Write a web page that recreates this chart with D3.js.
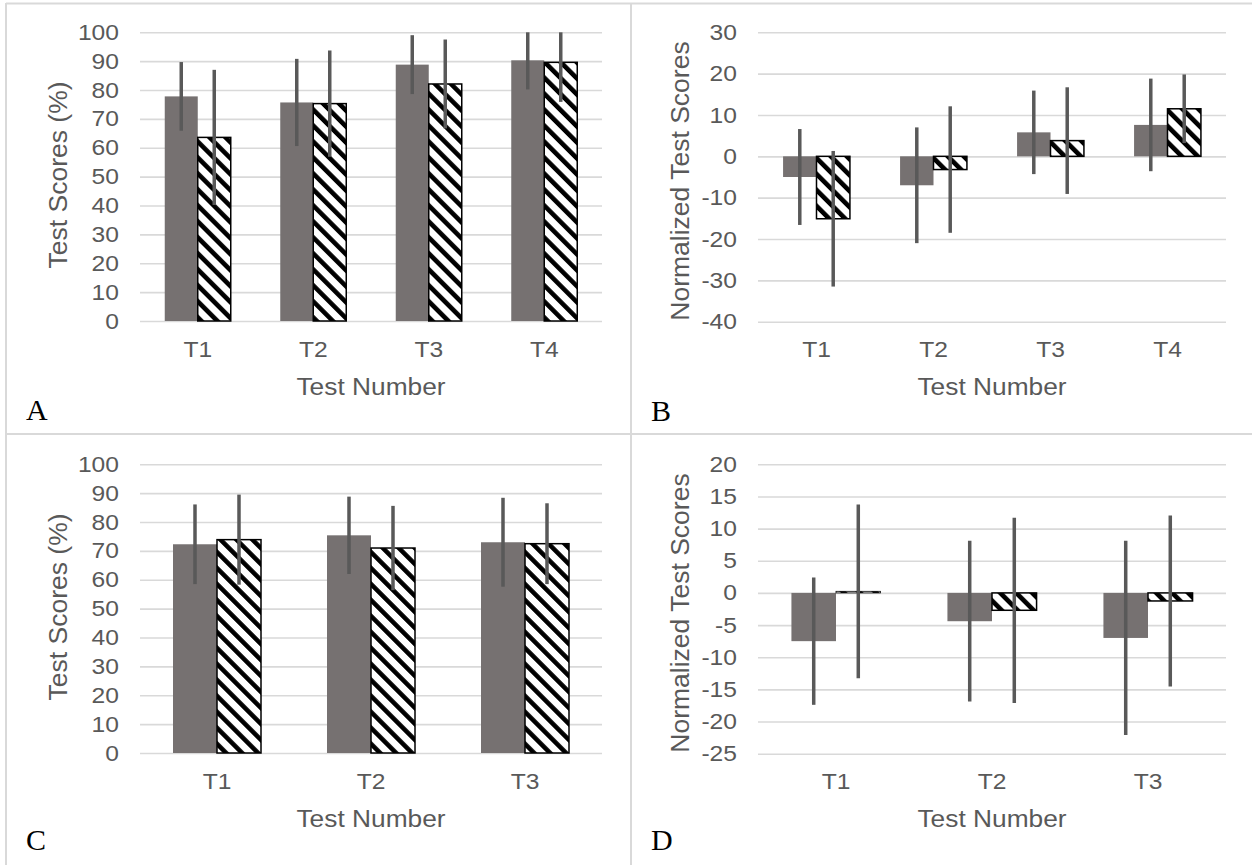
<!DOCTYPE html>
<html>
<head>
<meta charset="utf-8">
<script src="https://cdn.jsdelivr.net/npm/d3@7"></script>
<style>
  body { margin: 0; background: #fff; }
  svg { display: block; }
  text { font-family: "Liberation Sans", Arial, sans-serif; }
</style>
</head>
<body>
<svg id="chart" width="1252" height="865"></svg>
<script>
// categories
var testsAB = ["T1", "T2", "T3", "T4"];
var testsCD = ["T1", "T2", "T3"];

// panel A - raw scores, solid / hatched series, with error bar half widths
var scoresA  = [77.8, 75.7, 88.8, 90.3];
var scoresA2 = [63.6, 75.3, 82.1, 89.6];
var errA  = [11.9, 15.1, 10.2, 10.1];
var errA2 = [23.4, 18.4, 15.4, 13.7];

// panel B - normalized
var normB  = [-5.0, -7.0, 5.8, 7.6];
var normB2 = [-15.1, -3.2, 3.8, 11.5];
var errB  = [11.6, 14.0, 10.1, 11.2];
var errB2 = [16.4, 15.3, 12.9, 8.3];

// panel C - raw scores
var scoresC  = [72.3, 75.4, 73.0];
var scoresC2 = [73.9, 71.0, 72.5];
var errC  = [13.8, 13.4, 15.4];
var errC2 = [15.6, 14.6, 14.0];

// panel D - normalized
var normD  = [-7.5, -4.4, -7.0];
var normD2 = [0.25, -2.7, -1.25];
var errD  = [9.9, 12.5, 15.1];
var errD2 = [13.5, 14.4, 13.3];

// tick labels
var ticksScore = [0, 10, 20, 30, 40, 50, 60, 70, 80, 90, 100];
var ticksB = [-40, -30, -20, -10, 0, 10, 20, 30];
var ticksD = [-25, -20, -15, -10, -5, 0, 5, 10, 15, 20];

var GRAY = "#767171", ERR = "#595959", GRID = "#d9d9d9", TXT = "#595959";
var SX = 1.12; // text in the original is a bit wider than Arial

var svg = d3.select("#chart");

// hatch pattern: black "\" stripes on white
var defs = svg.append("defs");
var pat = defs.append("pattern")
    .attr("id", "hatch")
    .attr("patternUnits", "userSpaceOnUse")
    .attr("width", 11.3).attr("height", 11.3)
    .attr("patternTransform", "rotate(-45)");
pat.append("rect").attr("width", 11.3).attr("height", 11.3).attr("fill", "#fff");
pat.append("rect").attr("width", 4.6).attr("height", 11.3).attr("fill", "#000");

// panel frame lines (like table cell borders)
var frame = svg.append("g").attr("stroke", GRID).attr("stroke-width", 2);
frame.append("line").attr("x1", 6).attr("x2", 1252).attr("y1", 3.5).attr("y2", 3.5);
frame.append("line").attr("x1", 6).attr("x2", 6).attr("y1", 3).attr("y2", 865);
frame.append("line").attr("x1", 631).attr("x2", 631).attr("y1", 3).attr("y2", 865);
frame.append("line").attr("x1", 6).attr("x2", 1252).attr("y1", 434).attr("y2", 434);

// widen each text around its own anchor
function stretch(sel, sx) {
  sel.each(function() {
    var t = d3.select(this);
    var x = +t.attr("x") || 0, y = +t.attr("y") || 0;
    t.attr("x", 0).attr("y", 0)
     .attr("transform", "translate(" + x + "," + y + ") scale(" + sx + ",1)");
  });
}

function panel(cfg) {
  var g = svg.append("g");
  var x = d3.scaleBand().domain(cfg.cats).range([cfg.x0, cfg.x1]);
  var groupW = x.bandwidth() * 2 / 3.5; // gap width 150%
  var barW = groupW / 2;
  var lo = cfg.ticks[0], hi = cfg.ticks[cfg.ticks.length - 1];
  var y = d3.scaleLinear().domain([lo, hi]).range([cfg.yBot, cfg.yTop]);

  // gridlines + value labels (plain hyphen for negatives, like the original)
  var ya = g.append("g")
      .attr("transform", "translate(" + cfg.x0 + ",0)")
      .call(d3.axisLeft(y).tickValues(cfg.ticks)
        .tickFormat(function(d) { return String(d); })
        .tickSize(-(cfg.x1 - cfg.x0)).tickPadding(21));
  ya.select(".domain").remove();
  ya.selectAll(".tick line").attr("stroke", GRID).attr("stroke-width", 1.6);
  ya.selectAll(".tick text").attr("fill", TXT).attr("font-size", 22);
  stretch(ya.selectAll(".tick text"), SX);

  // category labels at the bottom
  var xa = g.append("g")
      .attr("transform", "translate(0," + cfg.yBot + ")")
      .call(d3.axisBottom(x).tickSize(0).tickPadding(20));
  xa.select(".domain").remove();
  xa.selectAll(".tick text").attr("fill", TXT).attr("font-size", 22);
  stretch(xa.selectAll(".tick text"), SX);

  var rows = cfg.cats.map(function(c, i) {
    return { cat: c, a: cfg.a[i], b: cfg.b[i], ea: cfg.ea[i], eb: cfg.eb[i] };
  });

  function barY(v) { return Math.min(y(0), y(v)); }
  function barH(v) { return Math.abs(y(v) - y(0)); }

  var grp = g.selectAll("g.cat").data(rows).join("g")
      .attr("class", "cat")
      .attr("transform", function(d) { return "translate(" + (x(d.cat) + (x.bandwidth() - groupW) / 2) + ",0)"; });

  grp.append("rect")
      .attr("x", 0).attr("width", barW)
      .attr("y", function(d) { return barY(d.a); })
      .attr("height", function(d) { return barH(d.a); })
      .attr("fill", GRAY);

  grp.append("rect")
      .attr("x", barW).attr("width", barW)
      .attr("y", function(d) { return barY(d.b); })
      .attr("height", function(d) { return barH(d.b); })
      .attr("fill", "url(#hatch)")
      .attr("stroke", "#000").attr("stroke-width", function(d) { return barH(d.b) < 3 ? 0.8 : 1.5; });

  function clamp(v) { return Math.max(lo, Math.min(hi, v)); }

  // error bars, no caps, clipped to the plot
  grp.append("line")
      .attr("x1", barW / 2).attr("x2", barW / 2)
      .attr("y1", function(d) { return y(clamp(d.a + d.ea)); })
      .attr("y2", function(d) { return y(clamp(d.a - d.ea)); })
      .attr("stroke", ERR).attr("stroke-width", 3.5);
  grp.append("line")
      .attr("x1", barW * 1.5).attr("x2", barW * 1.5)
      .attr("y1", function(d) { return y(clamp(d.b + d.eb)); })
      .attr("y2", function(d) { return y(clamp(d.b - d.eb)); })
      .attr("stroke", ERR).attr("stroke-width", 3.5);

  // axis titles
  g.append("text")
      .attr("transform", "translate(" + cfg.ytx + "," + cfg.yty + ") rotate(-90)")
      .attr("text-anchor", "middle")
      .attr("dominant-baseline", "central")
      .attr("fill", TXT).attr("font-size", 26.5)
      .text(cfg.ytitle);

  var xt = g.append("text")
      .attr("x", (cfg.x0 + cfg.x1) / 2).attr("y", cfg.xty)
      .attr("text-anchor", "middle")
      .attr("fill", TXT).attr("font-size", 23.5)
      .text("Test Number");
  stretch(xt, SX);

  // panel letter
  g.append("text")
      .attr("x", cfg.lx).attr("y", cfg.ly)
      .attr("fill", "#000")
      .style("font-family", "'Liberation Serif', 'Times New Roman', serif")
      .attr("font-size", 30)
      .text(cfg.letter);
}

panel({ cats: testsAB, a: scoresA, b: scoresA2, ea: errA, eb: errA2, ticks: ticksScore,
        x0: 140, x1: 602, yTop: 32.3, yBot: 321, ytx: 58, yty: 175, xty: 395,
        ytitle: "Test Scores  (%)", letter: "A", lx: 26, ly: 420 });
panel({ cats: testsAB, a: normB, b: normB2, ea: errB, eb: errB2, ticks: ticksB,
        x0: 758, x1: 1226, yTop: 32.3, yBot: 321.7, ytx: 680, yty: 181, xty: 395,
        ytitle: "Normalized Test Scores", letter: "B", lx: 651, ly: 421 });
panel({ cats: testsCD, a: scoresC, b: scoresC2, ea: errC, eb: errC2, ticks: ticksScore,
        x0: 140, x1: 602, yTop: 464.3, yBot: 753, ytx: 58, yty: 607, xty: 827,
        ytitle: "Test Scores  (%)", letter: "C", lx: 26, ly: 850 });
panel({ cats: testsCD, a: normD, b: normD2, ea: errD, eb: errD2, ticks: ticksD,
        x0: 758, x1: 1226, yTop: 464.3, yBot: 753.7, ytx: 680, yty: 613, xty: 827,
        ytitle: "Normalized Test Scores", letter: "D", lx: 651, ly: 850 });
</script>
</body>
</html>
